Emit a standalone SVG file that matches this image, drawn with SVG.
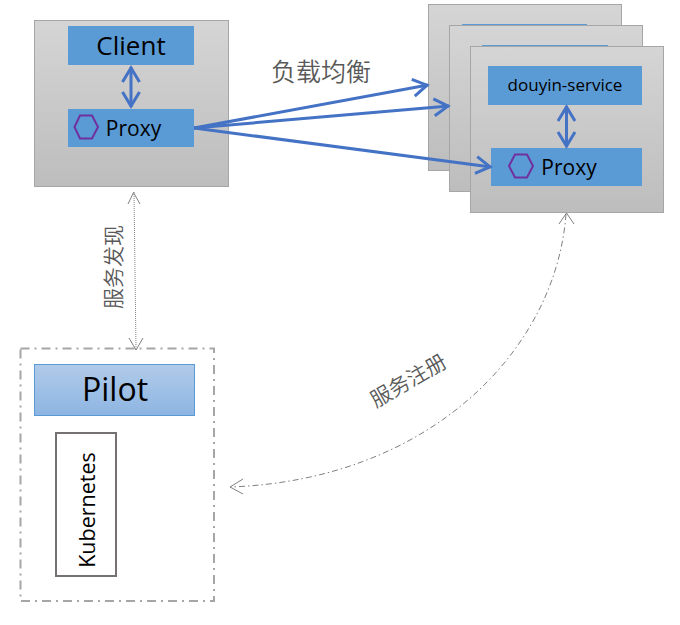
<svg xmlns="http://www.w3.org/2000/svg" width="680" height="625" viewBox="0 0 680 625">
<style>
.box{fill:url(#g);stroke:#a6a6a6;stroke-width:1}
.blue{fill:#5b9bd5}
.t{font-family:"Open Sans","Noto Sans",sans-serif;fill:#000;text-anchor:middle}
.zh{font-family:"Noto Sans CJK SC",sans-serif;font-weight:350;fill:#595959;text-anchor:middle}
.hex{fill:none;stroke:#7030a0;stroke-width:2}
.flow{fill:none;stroke:#4472c4;stroke-width:3;marker-end:url(#open)}
.both{fill:none;stroke:#4472c4;stroke-width:3;marker-start:url(#openS);marker-end:url(#open)}
.thin{fill:none;stroke:#808080;stroke-width:1}
</style>
<defs>
<linearGradient id="g" x1="0" y1="0" x2="0" y2="1"><stop offset="0" stop-color="#d5d5d5"/><stop offset="1" stop-color="#bdbdbd"/></linearGradient>
<linearGradient id="p" x1="0" y1="0" x2="0" y2="1"><stop offset="0" stop-color="#b1cbe9"/><stop offset="1" stop-color="#8db5e2"/></linearGradient>
<marker id="open" markerUnits="userSpaceOnUse" markerWidth="22" markerHeight="22" refX="18" refY="11" orient="auto"><path d="M3 2.500 L17 11 L3 19.500" fill="none" stroke="#4472c4" stroke-width="3"/></marker>
<marker id="openS" markerUnits="userSpaceOnUse" markerWidth="22" markerHeight="22" refX="4" refY="11" orient="auto"><path d="M19 2.500 L5 11 L19 19.500" fill="none" stroke="#4472c4" stroke-width="3"/></marker>
</defs>
<g id="client-pod">
<rect class="box" x="34.500" y="20.500" width="194" height="166"/>
<rect class="blue" x="68" y="26" width="126" height="39"/>
<text class="t" x="131" y="54.500" font-size="26">Client</text>
<rect class="blue" x="68" y="109" width="126" height="38"/>
<polygon class="hex" points="74.500,127 80,115.500 92,115.500 98,127 92,138.500 80,138.500"/>
<text class="t" x="133.500" y="135.500" font-size="21">Proxy</text>
</g>
<g id="service-pod-1">
<rect class="box" x="428.500" y="4.500" width="193" height="166"/>
<rect class="blue" x="462" y="24" width="125" height="2"/>
</g>
<g id="service-pod-2">
<rect class="box" x="449.500" y="25.500" width="193" height="166"/>
<rect class="blue" x="482" y="45" width="126" height="2"/>
</g>
<g id="service-pod-3">
<rect class="box" x="470.500" y="46.500" width="193" height="166"/>
<rect class="blue" x="488" y="66" width="154" height="39"/>
<text class="t" x="565" y="91" font-size="17">douyin-service</text>
<rect class="blue" x="491" y="148" width="151" height="38"/>
<polygon class="hex" points="509,166 515,154.500 527,154.500 533,166 527,177.500 515,177.500"/>
<text class="t" x="569" y="174.500" font-size="21">Proxy</text>
</g>
<g id="pilot-group">
<rect x="20.500" y="348.500" width="193.500" height="252.500" fill="#fff" stroke="#a6a6a6" stroke-width="2" stroke-dasharray="9 5 2 5"/>
<rect x="34.500" y="364.500" width="160" height="51" fill="url(#p)" stroke="#5b9bd5"/>
<text class="t" x="115" y="401" font-size="32">Pilot</text>
<rect x="56" y="433" width="60" height="143" fill="#fff" stroke="#767171" stroke-width="2"/>
<text class="t" transform="translate(94.500 510) rotate(-90)" font-size="21.500">Kubernetes</text>
</g>
<g id="connectors">
<path class="both" d="M131 67V107"/>
<path class="both" d="M566.500 106V147"/>
<path class="flow" d="M194 128L428 85"/>
<path class="flow" d="M194 128L449 106"/>
<path class="flow" d="M194 128L491 167"/>
<path class="thin" d="M134 192L136 349" stroke-dasharray="1 1"/>
<path class="thin" d="M128 204L133.500 192.500L140 204M129 338L136 350L143 338"/>
<path class="thin" d="M566 214C556 350 430 480 230 487" stroke-dasharray="6 3 1.500 3"/>
<path class="thin" d="M559 224L566.500 213L574 224M243 479L230 487L243 494"/>
</g>
<g id="labels">
<text class="zh" x="321" y="81" font-size="25">负载均衡</text>
<text class="zh" transform="translate(121 267) rotate(-90)" font-size="21">服务发现</text>
<text class="zh" transform="translate(412 387) rotate(-30)" font-size="21">服务注册</text>
</g>
</svg>
